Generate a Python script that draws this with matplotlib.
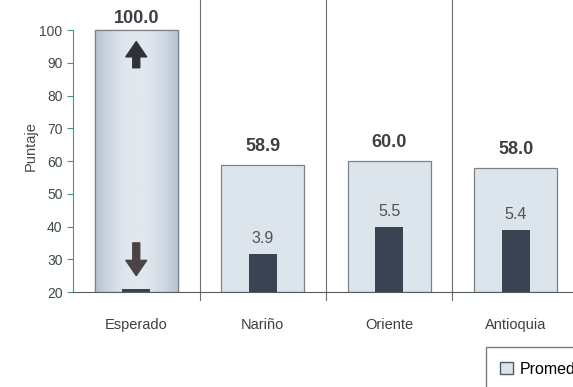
import numpy as np
import matplotlib.pyplot as plt
import matplotlib.patches as mpatches
from matplotlib.colors import LinearSegmentedColormap

plt.rcParams['font.family'] = ['Liberation Sans', 'DejaVu Sans']

categories = ['Esperado', 'Nariño', 'Oriente', 'Antioquia']
puntaje = [100.0, 58.9, 60.0, 58.0]
puntaje_labels = ['100.0', '58.9', '60.0', '58.0']
# dark inner bars, heights
interno = [21.0, 31.6, 39.8, 38.9]
interno_labels = ['', '3.9', '5.5', '5.4']

x = np.arange(len(categories))

fig = plt.figure(figsize=(5.73, 3.87), dpi=100)
ax = fig.add_axes([73 / 573, 95 / 387, 506 / 573, 292 / 387])

light = '#dce4ec'
edge = '#7c8288'
dark = '#3b4352'
teal = '#4f8f86'
txt = '#3c3f44'

bars = ax.bar(x, np.array(puntaje) - 20, bottom=20, width=0.66,
              color=light, edgecolor=edge, linewidth=0.9, zorder=2)

# soft gradient fill for the "Esperado" bar
b0 = bars[0]
cmap = LinearSegmentedColormap.from_list('esp', ['#e2e8ef', '#b3c1d1'])
grad = np.abs(np.linspace(-1, 1, 200))[None, :] ** 2
img = ax.imshow(grad, cmap=cmap, vmin=0, vmax=1, aspect='auto',
                extent=(b0.get_x(), b0.get_x() + b0.get_width(), 20, puntaje[0]),
                zorder=2.5)
img.set_clip_path(b0)
ax.bar(x[0], puntaje[0] - 20, bottom=20, width=0.66, fill=False,
       edgecolor=edge, linewidth=0.9, zorder=3)

ax.bar(x, np.array(interno) - 20, bottom=20, width=0.22, color=dark, zorder=4)

for xi, v, lab in zip(x, puntaje, puntaje_labels):
    off = 1.0 if v >= 100 else 3
    ax.text(xi, v + off, lab, ha='center', va='bottom', fontsize=13,
            fontweight='bold', color=txt, zorder=5)
for xi, v, lab in zip(x, interno, interno_labels):
    if lab:
        ax.text(xi, v + 2.5, lab, ha='center', va='bottom', fontsize=11.5,
                color='#50545a', zorder=5)

# arrows in the expected bar
arr = 'simple,head_width=1.5,head_length=1.1,tail_width=0.5'
ax.annotate('', xy=(0, 96.5), xytext=(0, 88.5),
            arrowprops=dict(arrowstyle=arr, color='#2f3338', shrinkA=0, shrinkB=0), zorder=6)
ax.annotate('', xy=(0, 25), xytext=(0, 35),
            arrowprops=dict(arrowstyle=arr, color='#4a4444', shrinkA=0, shrinkB=0), zorder=6)

# separators
for s in [0.5, 1.5, 2.5]:
    ax.plot([s, s], [17.5, 109.2], color='#6b6e72', lw=0.8, clip_on=False, zorder=1)

ax.set_xlim(-0.5, 3.5)
ax.set_ylim(20, 109.2)
ax.set_yticks(range(20, 101, 10))
ax.set_xticks(x)
ax.set_xticklabels(categories, fontsize=10.5, color=txt)
ax.tick_params(axis='x', length=0, pad=19)
ax.tick_params(axis='y', length=4, color=teal, labelsize=10, labelcolor='#3f4a4a')
for sp in ['top', 'right']:
    ax.spines[sp].set_visible(False)
ax.spines['left'].set_bounds(20, 100)
ax.spines['left'].set_color(teal)
ax.spines['bottom'].set_color('#55605e')
ax.set_ylabel('Puntaje', fontsize=10.5, color='#3f4a4a', labelpad=1)

# legend box (cut off at the figure edge)
handle = mpatches.Patch(facecolor=light, edgecolor='#555a60', label='Promedio')
fig.legend(handles=[handle], loc='lower left', bbox_to_anchor=(478 / 573, -12 / 387),
           frameon=True, fancybox=False, edgecolor='#555a60', fontsize=11.5,
           handlelength=0.8, handleheight=0.8, handletextpad=0.4, borderpad=0.9)

fig.savefig('out.png', dpi=100)
